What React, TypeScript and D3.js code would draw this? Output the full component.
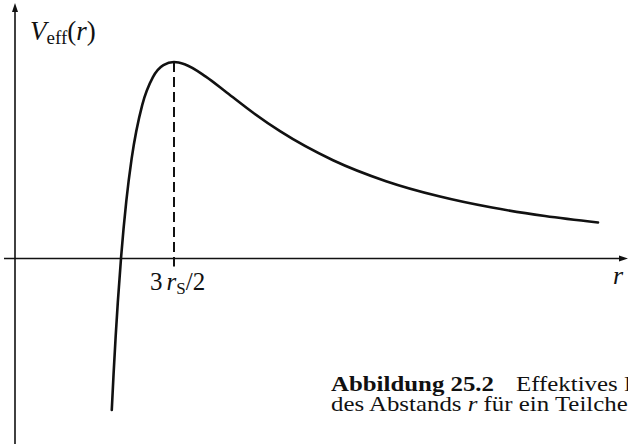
import React from "react";
import * as d3 from "d3";

// Effective potential V_eff(r) sampled along r (in units of the Schwarzschild radius r_S)
const radii = [0.913, 0.93, 0.95, 0.97, 1.0, 1.05, 1.1, 1.2, 1.3, 1.4, 1.5, 1.6, 1.8, 2.0, 2.25, 2.5, 3.0, 3.5, 4.0, 4.5, 5.0, 5.5];
const potential = [-0.1143, -0.087, -0.0583, -0.0329, 0, 0.0432, 0.0751, 0.1157, 0.1366, 0.1458, 0.1482, 0.1465, 0.1372, 0.125, 0.1097, 0.096, 0.0741, 0.0583, 0.0469, 0.0384, 0.032, 0.0271];
const peakR = 1.5;
const peakV = 0.1482;

const W = 628;
const H = 444;
const serif = "'Liberation Serif', 'DejaVu Serif', serif";

export default function App() {
  const x = d3.scaleLinear().domain([0, 1]).range([15, 121]);
  const y = d3.scaleLinear().domain([0, peakV]).range([258.5, 62]);
  const pts: [number, number][] = radii.map((r, i) => [r, potential[i]]);
  const line = d3
    .line<[number, number]>()
    .x((d) => x(d[0]))
    .y((d) => y(d[1]))
    .curve(d3.curveMonotoneX);

  const x0 = x(0);
  const y0 = y(0);

  // caption set slightly condensed in height, wide in width
  const capScale = "scale(1.13,1)";

  return (
    <svg
      width={W}
      height={H}
      style={{ position: "absolute", left: 0, top: 0, background: "#fff", overflow: "hidden" }}
      fontFamily={serif}
    >
      {/* axes */}
      <line x1={x0} y1={H} x2={x0} y2={9} stroke="#111" strokeWidth={1.6} />
      <path d={`M${x0 - 3},${12} L${x0},${3} L${x0 + 3},${12} Z`} fill="#111" />
      <line x1={4} y1={y0} x2={622} y2={y0} stroke="#111" strokeWidth={1.6} />
      <path d={`M${619},${y0 - 3} L${628},${y0} L${619},${y0 + 3} Z`} fill="#111" />

      {/* dashed marker at the maximum */}
      <line
        x1={x(peakR)}
        y1={y(peakV)}
        x2={x(peakR)}
        y2={y0 + 8}
        stroke="#111"
        strokeWidth={2}
        strokeDasharray="10,5"
      />

      {/* potential curve */}
      <path d={line(pts) ?? ""} fill="none" stroke="#111" strokeWidth={2.6} strokeLinecap="round" />

      {/* axis labels */}
      <text x={30} y={40} fontSize={27} fill="#111">
        <tspan fontStyle="italic">V</tspan>
        <tspan fontSize={19} dy={4}>eff</tspan>
        <tspan dy={-4}>(</tspan>
        <tspan fontStyle="italic">r</tspan>
        <tspan>)</tspan>
      </text>
      <text x={613} y={284} fontSize={26} fontStyle="italic" fill="#111">r</text>
      <text x={150} y={290} fontSize={25} fill="#111">
        <tspan>3</tspan>
        <tspan dx={4} fontStyle="italic">r</tspan>
        <tspan fontSize={17} dy={4}>S</tspan>
        <tspan dy={-4}>/2</tspan>
      </text>

      {/* caption */}
      <g transform={`translate(331,391) ${capScale}`}>
        <text x={0} y={0} fontSize={22} fontWeight="bold" fill="#111">Abbildung 25.2</text>
      </g>
      <g transform={`translate(516,391) ${capScale}`}>
        <text x={0} y={0} fontSize={22} fill="#111">Effektives P</text>
      </g>
      <g transform={`translate(331,411) ${capScale}`}>
        <text x={0} y={0} fontSize={22} fill="#111">
          des Abstands <tspan fontStyle="italic">r</tspan> für ein Teilche
        </text>
      </g>
    </svg>
  );
}
